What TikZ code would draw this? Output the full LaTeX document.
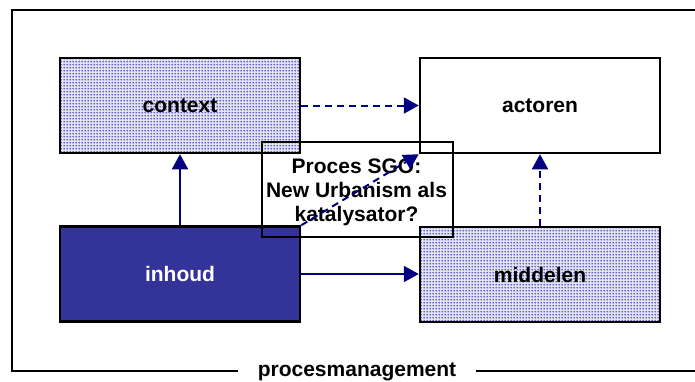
\documentclass[tikz,border=0pt]{standalone}
\usepackage{fontspec}
\setmainfont{Liberation Sans}
\usetikzlibrary{arrows.meta,patterns.meta}
\definecolor{navy}{RGB}{0,0,128}
\definecolor{inhoudblue}{RGB}{51,51,153}
\definecolor{dotblue}{RGB}{51,51,170}
\definecolor{dotground}{RGB}{226,226,246}

% fine dot raster used for the shaded boxes
\tikzdeclarepattern{
  name=finedots,
  type=uncolored,
  bounding box={(0bp,0bp) and (3bp,3bp)},
  tile size={(3bp,3bp)},
  code={\fill (1.5bp,1.5bp) circle (1.0bp);}
}

\begin{document}
\begin{tikzpicture}[x=1bp,y=-1bp,
  labelfont/.style={font=\fontsize{21bp}{24bp}\selectfont\bfseries},
  box/.style={draw=black, line width=2.5bp, minimum width=240bp,
    minimum height=95bp, inner sep=0pt, labelfont},
  dotbox/.style={box, preaction={fill=dotground},
    pattern=finedots, pattern color=dotblue},
  link/.style={draw=navy, line width=2bp,
    -{Triangle[length=15bp,width=16bp]}},
  dashlink/.style={link, dash pattern=on 7bp off 5bp},
  frame/.style={draw=black, line width=1.8bp},
]
\useasboundingbox (0,0) rectangle (695,381);

% outer frame with its caption in the bottom edge
\node[labelfont, anchor=base, inner xsep=20bp, inner ysep=0pt] (pm)
  at (357,376) {procesmanagement};
\coordinate (tr) at (695,10);
\coordinate (tl) at (12,10);
\coordinate (bl) at (12,371);
\coordinate (br) at (695,371);
\draw[frame] (tr) -- (tl) -- (bl) -- (bl -| pm.west);
\draw[frame] (br -| pm.east) -- (br);

% the four boxes
\node[dotbox] (context) at (180,105.5) {context};
\node[box, fill=white] (actoren) at (540,105.5) {actoren};
\node[box, fill=inhoudblue, text=white] (inhoud) at (180,274) {inhoud};
\node[dotbox] (middelen) at (540,274.5) {middelen};

% central question box (transparent)
\node[draw=black, line width=2bp, minimum width=191bp, minimum height=95bp,
  inner sep=0pt] (sgo) at (357.5,189.5) {};
\node[labelfont, align=center, inner sep=0pt] (sgotext) at (356.5,192)
  {Proces SGO:\\New Urbanism als\\katalysator?};

% relations
\draw[link] (inhoud) -- (context);
\draw[link] (inhoud) -- (inhoud -| middelen.west);
\draw[dashlink] (context) -- (actoren);
\draw[dashlink] (middelen) -- (actoren);
\draw[dashlink] (inhoud.north east) -- (actoren.south west);
\end{tikzpicture}
\end{document}
